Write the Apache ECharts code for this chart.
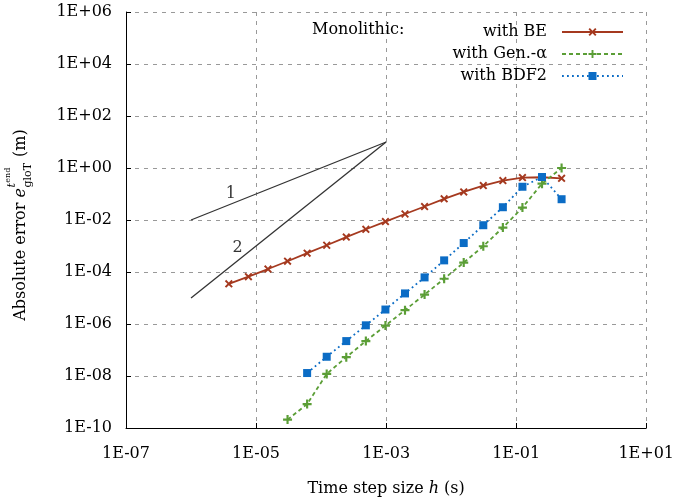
<!DOCTYPE html>
<html>
<head>
<meta charset="utf-8">
<style>html,body{margin:0;padding:0;background:#fff}#c{width:677px;height:502px}</style>
<script src="https://cdn.jsdelivr.net/npm/echarts@6/dist/echarts.min.js"></script>
</head>
<body>
<div id="c"></div>
<script>
// Time step sizes h (s), ascending: 2^-18 ... 2^-1
const hSteps = [3.814697265625e-6, 7.62939453125e-6, 1.52587890625e-5, 3.0517578125e-5,
  6.103515625e-5, 1.220703125e-4, 2.44140625e-4, 4.8828125e-4, 9.765625e-4,
  1.953125e-3, 3.90625e-3, 7.8125e-3, 1.5625e-2, 3.125e-2, 6.25e-2, 0.125, 0.25, 0.5];
// Errors, monolithic with BE (h = 2^-18 ... 2^-1)
const errBE = [3.5e-5, 6.6e-5, 1.3e-4, 2.6e-4, 5.3e-4, 1.07e-3, 2.2e-3, 4.4e-3, 8.7e-3,
  0.017, 0.033, 0.065, 0.12, 0.21, 0.33, 0.43, 0.44, 0.40];
// Errors, with Gen.-alpha (h = 2^-15 ... 2^-1)
const errGA = [2.1e-10, 8.3e-10, 1.2e-8, 5.3e-8, 2.2e-7, 8.7e-7, 3.4e-6, 1.35e-5, 5.5e-5,
  2.3e-4, 9.8e-4, 5.1e-3, 0.030, 0.25, 1.0];
// Errors, with BDF2 (h = 2^-14 ... 2^-1)
const errBDF = [1.3e-8, 5.5e-8, 2.2e-7, 8.9e-7, 3.6e-6, 1.5e-5, 6.2e-5, 2.8e-4, 1.3e-3,
  6.3e-3, 0.031, 0.19, 0.45, 0.063];
// Reference slope triangles
const slope1 = [[1e-6, 1e-2], [1e-3, 1e1]];
const slope2 = [[1e-6, 1e-5], [1e-3, 1e1]];
const slopeLabels = [[4.1e-6, 0.1, '1'], [5.2e-6, 8.5e-4, '2']];
const seriesNames = ['with BE', 'with Gen.-\u03b1', 'with BDF2'];
const colors = ['#a5391f', '#5b9e36', '#0b6cc5'];

function pair(xs, ys) {
  const off = xs.length - ys.length;
  return ys.map((y, i) => [xs[i + off], y]);
}
function expLabel(v) {
  const e = Math.round(Math.log10(v));
  return '1E' + (e < 0 ? '-' : '+') + String(Math.abs(e)).padStart(2, '0');
}
const FF = '"DejaVu Serif", serif';
const xPath = 'path://M0,1.7L1.7,0L5,3.3L8.3,0L10,1.7L6.7,5L10,8.3L8.3,10L5,6.7L1.7,10L0,8.3L3.3,5Z';
const plusPath = 'path://M3.8,0H6.2V3.8H10V6.2H6.2V10H3.8V6.2H0V3.8H3.8Z';

// y axis title, laid out with measured text
const ctx = document.createElement('canvas').getContext('2d');
function tw(t, font) { ctx.font = font; return ctx.measureText(t).width; }
const fMain = '16px ' + FF, fIt = 'italic 16px ' + FF, fSub = '11px ' + FF, fSupIt = 'italic 11px ' + FF, fSup2 = '8px ' + FF;
const p1 = 'Absolute error ';
let xa = tw(p1, fMain);
let xe = xa + tw('e', fIt) + 0.5;
let xEnd = xe + tw('t', fSupIt) + 0.5;
let x3 = Math.max(xe + tw('gloT', fSub), xEnd + tw('end', fSup2)) + 1;
const total = x3 + tw(' (m)', fMain);
function T(text, x, y, font) {
  return { type: 'text', style: { text: text, x: x, y: y, font: font, fill: '#000', textVerticalAlign: 'middle', verticalAlign: 'middle' } };
}
const yTitle = {
  type: 'group', x: 21, y: 225 + total / 2, rotation: Math.PI / 2,
  children: [T(p1, 0, 0, fMain), T('e', xa, 0, fIt), T('gloT', xe, 7, fSub),
    T('t', xe, -9, fSupIt), T('end', xEnd, -13, fSup2), T(' (m)', x3, 0, fMain)]
};

const chart = echarts.init(document.getElementById('c'));
const axisCommon = {
  type: 'log', logBase: 10, interval: 2,
  axisLine: { show: true, lineStyle: { color: '#000', width: 1 } },
  axisTick: { show: true, inside: true, length: 5, lineStyle: { color: '#000' } },
  minorTick: { show: false },
  splitLine: { show: true, lineStyle: { color: '#999', type: [4, 5], width: 1 } },
  axisLabel: { fontFamily: FF, fontSize: 16, color: '#000', formatter: expLabel }
};
chart.setOption({
  animation: false,
  grid: { left: 126, right: 27, top: 12, bottom: 71, containLabel: false },
  xAxis: Object.assign({}, axisCommon, {
    min: 1e-7, max: 1e1,
    axisLabel: Object.assign({}, axisCommon.axisLabel, { margin: 18 }),
    name: 'Time step size {i|h} (s)', nameLocation: 'middle', nameGap: 53,
    nameTextStyle: { fontFamily: FF, fontSize: 16, color: '#000',
      rich: { i: { fontFamily: FF, fontSize: 16, fontStyle: 'italic', color: '#000' } } }
  }),
  yAxis: Object.assign({}, axisCommon, {
    min: 1e-10, max: 1e6,
    axisLabel: Object.assign({}, axisCommon.axisLabel, { margin: 14 })
  }),
  legend: {
    data: seriesNames, orient: 'vertical', align: 'right', right: 48, top: 19,
    itemWidth: 61, itemHeight: 10, itemGap: 6,
    textStyle: { fontFamily: FF, fontSize: 16, color: '#000', padding: [0, 10, 0, 0], lineHeight: 16 }
  },
  graphic: [
    { type: 'text', left: 312, top: 22, style: { text: 'Monolithic:', font: fMain, fill: '#000' } },
    yTitle
  ],
  series: [
    { type: 'line', data: slope1, symbol: 'none', silent: true, lineStyle: { color: '#333', width: 1.3 }, z: 1 },
    { type: 'line', data: slope2, symbol: 'none', silent: true, lineStyle: { color: '#333', width: 1.3 }, z: 1 },
    { type: 'scatter', data: slopeLabels, symbolSize: 1, silent: true, itemStyle: { color: 'rgba(0,0,0,0)' },
      label: { show: true, position: 'inside', formatter: p => p.data[2], fontFamily: FF, fontSize: 16, color: '#000' } },
    { name: seriesNames[0], type: 'line', data: pair(hSteps, errBE), symbol: xPath, symbolSize: 8,
      lineStyle: { color: colors[0], width: 1.8 }, itemStyle: { color: colors[0] }, z: 3 },
    { name: seriesNames[1], type: 'line', data: pair(hSteps, errGA), symbol: plusPath, symbolSize: 9,
      lineStyle: { color: colors[1], width: 1.8, type: [4, 3] }, itemStyle: { color: colors[1] }, z: 3 },
    { name: seriesNames[2], type: 'line', data: pair(hSteps, errBDF), symbol: 'rect', symbolSize: 8,
      lineStyle: { color: colors[2], width: 1.8, type: [1.8, 3.2] }, itemStyle: { color: colors[2] }, z: 3 }
  ]
});
</script>
</body>
</html>
